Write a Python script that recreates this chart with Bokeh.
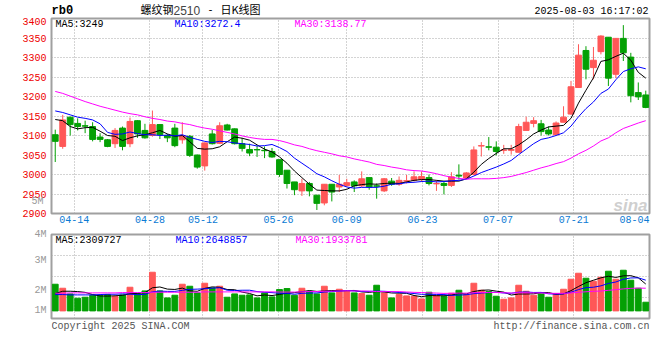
from bokeh.plotting import figure
from bokeh.models import Range1d, FixedTicker, Label, ColumnDataSource, LinearAxis
from bokeh.layouts import column
from bokeh.embed import file_html
from bokeh.resources import INLINE

# ---------------- data ----------------
dates = ["04-09", "04-10", "04-11", "04-14", "04-15", "04-16", "04-17", "04-18", "04-21", "04-22",
         "04-23", "04-24", "04-25", "04-28", "04-29", "04-30", "05-06", "05-07", "05-08", "05-09",
         "05-12", "05-13", "05-14", "05-15", "05-16", "05-19", "05-20", "05-21", "05-22", "05-23",
         "05-26", "05-27", "05-28", "05-29", "05-30", "06-03", "06-04", "06-05", "06-06", "06-09",
         "06-10", "06-11", "06-12", "06-13", "06-16", "06-17", "06-18", "06-19", "06-20", "06-23",
         "06-24", "06-25", "06-26", "06-27", "06-30", "07-01", "07-02", "07-03", "07-04", "07-07",
         "07-08", "07-09", "07-10", "07-11", "07-14", "07-15", "07-16", "07-17", "07-18", "07-21",
         "07-22", "07-23", "07-24", "07-25", "07-28", "07-29", "07-30", "07-31", "08-01", "08-04"]

opens = [3102, 3072, 3147, 3131, 3125, 3123, 3096, 3089, 3079, 3119,
         3079, 3138, 3113, 3100, 3128, 3100, 3119, 3089, 3098, 3050,
         3022, 3104, 3080, 3127, 3117, 3079, 3064, 3064, 3062, 3059,
         3038, 3011, 2981, 2958, 2977, 2947, 2927, 2975, 2968, 2972,
         2981, 2971, 2992, 2971, 2958, 2983, 2975, 2983, 2985, 2987,
         2992, 2976, 2977, 2972, 2998, 2991, 3000, 3073, 3071, 3070,
         3062, 3062, 3057, 3113, 3131, 3130, 3114, 3102, 3134, 3155,
         3223, 3318, 3274, 3315, 3352, 3257, 3349, 3301, 3210, 3204]
highs = [3115, 3153, 3148, 3144, 3138, 3134, 3106, 3091, 3119, 3123,
         3146, 3139, 3130, 3164, 3129, 3104, 3130, 3134, 3101, 3051,
         3082, 3114, 3134, 3130, 3118, 3094, 3079, 3074, 3072, 3068,
         3038, 3011, 2981, 2989, 2981, 2947, 2975, 2975, 2999, 2989,
         2985, 3008, 2992, 2977, 2991, 2991, 2995, 2999, 3008, 3008,
         3000, 2985, 2981, 3006, 3026, 3006, 3072, 3083, 3096, 3085,
         3076, 3076, 3130, 3148, 3147, 3140, 3123, 3136, 3175, 3240,
         3334, 3329, 3327, 3357, 3352, 3349, 3383, 3312, 3236, 3215]
lows = [3032, 3066, 3100, 3113, 3106, 3085, 3083, 3070, 3068, 3062,
        3070, 3094, 3092, 3097, 3091, 3083, 3070, 3079, 3045, 3015,
        3010, 3077, 3078, 3113, 3077, 3059, 3047, 3045, 3042, 3043,
        2994, 2964, 2947, 2945, 2944, 2909, 2921, 2931, 2955, 2968,
        2955, 2968, 2961, 2938, 2955, 2971, 2971, 2977, 2982, 2981,
        2972, 2958, 2949, 2968, 2987, 2989, 2998, 3046, 3062, 3049,
        3053, 3051, 3057, 3113, 3121, 3100, 3100, 3102, 3134, 3153,
        3223, 3244, 3244, 3308, 3227, 3247, 3291, 3185, 3191, 3170]
closes = [3085, 3140, 3128, 3123, 3124, 3090, 3090, 3072, 3113, 3072,
          3136, 3104, 3094, 3128, 3102, 3094, 3074, 3100, 3049, 3019,
          3081, 3079, 3125, 3114, 3079, 3067, 3055, 3063, 3061, 3045,
          3000, 2977, 2961, 2977, 2958, 2926, 2975, 2955, 2975, 2979,
          2971, 2989, 2968, 2970, 2989, 2975, 2985, 2984, 2994, 2995,
          2977, 2977, 2972, 2994, 2996, 3004, 3063, 3074, 3070, 3059,
          3063, 3064, 3123, 3134, 3138, 3110, 3104, 3132, 3147, 3225,
          3306, 3270, 3293, 3355, 3247, 3349, 3312, 3202, 3199, 3172]

ma5 = [3141, 3138, 3123, 3117, 3120, 3121, 3111, 3100, 3098, 3087,
       3094, 3099, 3102, 3107, 3113, 3104, 3098, 3100, 3084, 3067,
       3065, 3066, 3071, 3084, 3096, 3093, 3088, 3076, 3065, 3058,
       3045, 3029, 3009, 2992, 2975, 2960, 2959, 2958, 2958, 2962,
       2971, 2974, 2976, 2975, 2977, 2978, 2977, 2981, 2985, 2987,
       2987, 2985, 2983, 2983, 2983, 2989, 3006, 3026, 3041, 3054,
       3066, 3066, 3076, 3089, 3104, 3114, 3122, 3124, 3126, 3144,
       3183, 3216, 3248, 3290, 3294, 3303, 3311, 3293, 3262, 3247]
ma10 = [3163, 3159, 3153, 3147, 3144, 3140, 3130, 3108, 3103, 3104,
        3109, 3105, 3102, 3102, 3100, 3101, 3099, 3102, 3095, 3090,
        3085, 3082, 3085, 3084, 3081, 3079, 3077, 3073, 3074, 3077,
        3069, 3059, 3042, 3029, 3016, 3002, 2994, 2984, 2975, 2968,
        2965, 2967, 2967, 2967, 2970, 2975, 2976, 2979, 2980, 2982,
        2983, 2981, 2982, 2984, 2985, 2988, 2996, 3005, 3012, 3019,
        3027, 3036, 3051, 3065, 3079, 3090, 3094, 3100, 3107, 3124,
        3148, 3169, 3186, 3208, 3219, 3243, 3264, 3271, 3276, 3271]
ma30 = [3213, 3208, 3201, 3194, 3187, 3181, 3175, 3170, 3165, 3160,
        3156, 3153, 3148, 3144, 3141, 3137, 3135, 3131, 3128, 3123,
        3119, 3116, 3112, 3108, 3104, 3099, 3095, 3092, 3090, 3090,
        3087, 3082, 3076, 3072, 3066, 3061, 3057, 3053, 3048, 3045,
        3040, 3036, 3032, 3026, 3023, 3019, 3016, 3012, 3010, 3009,
        3006, 3002, 2997, 2993, 2990, 2988, 2989, 2989, 2989, 2990,
        2992, 2995, 3000, 3005, 3011, 3017, 3022, 3028, 3033, 3042,
        3053, 3062, 3073, 3086, 3094, 3107, 3118, 3125, 3132, 3138]

# volume, thousand lots
volumes = [2294, 1950, 1463, 1090, 1176, 1348, 1348, 1405, 1233, 1377,
           2036, 1491, 1721, 3327, 1721, 1119, 1348, 2294, 2122, 1549,
           2380, 1979, 2122, 1176, 1463, 1348, 1377, 1119, 1549, 1205,
           1836, 1922, 1348, 1950, 1692, 1463, 2122, 1549, 1864, 1721,
           1549, 1491, 1348, 2208, 1549, 1119, 1405, 1291, 1262, 1032,
           1606, 1348, 1262, 1520, 1778, 1405, 2380, 1778, 1663, 1262,
           1004, 1119, 2208, 1692, 1348, 1463, 1176, 1491, 1864, 2725,
           3241, 2811, 2553, 2897, 3413, 2725, 3499, 2639, 1950, 746]
vol_ma5 = [1491, 1692, 1692, 1663, 1595, 1405, 1285, 1273, 1302, 1342,
           1480, 1509, 1572, 1990, 2059, 1876, 1847, 1962, 1721, 1686,
           1939, 2065, 2031, 1841, 1824, 1618, 1497, 1296, 1371, 1319,
           1417, 1526, 1572, 1652, 1749, 1675, 1715, 1755, 1738, 1744,
           1761, 1635, 1595, 1663, 1629, 1543, 1526, 1514, 1325, 1222,
           1319, 1308, 1302, 1354, 1503, 1463, 1669, 1772, 1801, 1698,
           1618, 1365, 1451, 1457, 1474, 1566, 1577, 1434, 1468, 1744,
           2099, 2426, 2639, 2845, 2983, 2879, 3017, 3034, 2845, 2312]
vol_ma10 = [1405, 1405, 1377, 1377, 1377, 1377, 1405, 1434, 1434, 1468,
            1443, 1397, 1423, 1646, 1701, 1678, 1678, 1767, 1856, 1873,
            1907, 1956, 1996, 1781, 1755, 1778, 1781, 1663, 1606, 1572,
            1517, 1511, 1434, 1511, 1534, 1546, 1620, 1663, 1695, 1747,
            1718, 1675, 1675, 1701, 1686, 1652, 1580, 1554, 1494, 1425,
            1431, 1417, 1408, 1339, 1362, 1391, 1488, 1537, 1577, 1600,
            1540, 1517, 1612, 1629, 1586, 1592, 1471, 1443, 1463, 1609,
            1833, 2002, 2036, 2157, 2363, 2489, 2722, 2836, 2845, 2647]
vol_ma30 = [1520, 1520, 1549, 1549, 1549, 1549, 1549, 1549, 1549, 1577,
            1577, 1577, 1577, 1606, 1606, 1606, 1606, 1606, 1606, 1606,
            1635, 1635, 1635, 1635, 1635, 1635, 1635, 1635, 1635, 1638,
            1623, 1620, 1618, 1646, 1663, 1666, 1692, 1698, 1718, 1729,
            1715, 1715, 1701, 1663, 1658, 1658, 1661, 1626, 1597, 1580,
            1554, 1534, 1506, 1517, 1529, 1529, 1563, 1586, 1589, 1592,
            1563, 1537, 1566, 1557, 1546, 1546, 1514, 1511, 1511, 1546,
            1600, 1646, 1686, 1709, 1770, 1824, 1893, 1939, 1962, 1953]

price_ticks = [2900, 2950, 3000, 3050, 3100, 3150, 3200, 3250, 3300, 3350, 3400]
date_ticks = ["04-14", "04-28", "05-12", "05-26", "06-09", "06-23", "07-07", "07-21", "08-04"]
vol_tick_labels = ["1M", "2M", "3M", "4M"]
vol_tick_values = [0, 1721, 4303, 6570]
price_side_label = "5M"
price_side_value = 2930

title_code = "rb0"
title_name = "螺纹钢"
title_contract = "2510"
title_dash = "-"
title_kind = "日K线图"
timestamp = "2025-08-03 16:17:02"
price_legend = ["MA5:3249", "MA10:3272.4", "MA30:3138.77"]
vol_legend = ["MA5:2309727", "MA10:2648857", "MA30:1933781"]
copyright_text = "Copyright 2025 SINA.COM"
url_text = "http://finance.sina.com.cn"

# ---------------- style ----------------
UP = "#ff5757"
DOWN = "#04a004"
MA_COLORS = ["#000000", "#0000ff", "#ff00ff"]
FRAME = "#a0a0a0"
GRID = "#a8a8a8"
MONO = "Liberation Mono"
CJK = "Noto Sans CJK SC"
DATE_BLUE = "#0a7ad4"
AXIS_GRAY = "#999999"
W = 653
LEFT = 51          # frame left edge (all panels share it)

n = len(dates)
idx = list(range(n))
colors = [UP if c >= o else DOWN for o, c in zip(opens, closes)]
src = ColumnDataSource(dict(
    x=idx, o=opens, h=highs, l=lows, c=closes,
    top=[max(o, c) for o, c in zip(opens, closes)],
    bot=[min(o, c) for o, c in zip(opens, closes)],
    col=colors, vol=volumes,
    ma5=ma5, ma10=ma10, ma30=ma30,
    vma5=vol_ma5, vma10=vol_ma10, vma30=vol_ma30))

# date gridlines: sina spaces them over n-1 steps; the last label is kept inside the frame
tick_pos = [round(dates.index(d) * n / (n - 1) - 0.5, 4) for d in date_ticks]
tick_pos[-1] = round(min(tick_pos[-1], n - 0.5 - 2.0), 4)
grid_x = tick_pos[:-1]


def style_axis(ax):
    ax.axis_line_color = None
    ax.major_tick_line_color = None
    ax.minor_tick_line_color = None
    ax.major_tick_out = 0
    ax.major_tick_in = 0
    ax.minor_tick_out = 0
    ax.minor_tick_in = 0
    ax.major_label_text_font = MONO
    ax.major_label_text_font_size = "10px"


def style_common(fig):
    fig.outline_line_color = FRAME
    fig.outline_line_width = 2
    fig.background_fill_color = "white"
    fig.border_fill_color = "white"
    for ax in fig.axis:
        style_axis(ax)
    for g in fig.grid:
        g.grid_line_color = GRID
        g.grid_line_dash = "1 2"
        g.grid_line_width = 1


def add_label(fig, text, x, y, color="#000000", size="10px", font=MONO, align="left",
              style="normal"):
    fig.add_layout(Label(x=x, y=y, x_units="screen", y_units="screen", text=text,
                         text_color=color, text_font_size=size, text_font=font,
                         text_align=align, text_baseline="middle", text_font_style=style))


def strip(height):
    """A bare text strip (its frame lines up with the panels below)."""
    f = figure(width=W, height=height, x_range=Range1d(0, 1), y_range=Range1d(0, 1),
               output_backend="svg", toolbar_location=None,
               min_border_left=LEFT, min_border_right=4, min_border_top=0, min_border_bottom=0)
    f.axis.visible = False
    f.grid.visible = False
    f.outline_line_color = None
    f.background_fill_color = "white"
    f.border_fill_color = "white"
    return f


# ---------------- header strip (x from the frame's left edge, y from its bottom) ----------------
head = strip(17)
add_label(head, title_code, 0, 7, size="12px", style="bold")
add_label(head, title_name, 140 - LEFT, 8.5, size="11px", font=CJK)
add_label(head, title_contract, 173 - LEFT, 7, color="#444444", size="12px",
          font="Liberation Sans")
add_label(head, title_dash, 207 - LEFT, 8, size="10px", font=MONO)
add_label(head, title_kind, 220 - LEFT, 8.5, size="11px", font=CJK)
add_label(head, timestamp, 648 - LEFT, 6, align="right")

# ---------------- price panel ----------------
p = figure(width=W, height=210, x_range=Range1d(-0.5, n - 0.5), y_range=Range1d(2900, 3400),
           output_backend="svg", toolbar_location=None,
           min_border_left=LEFT, min_border_right=4, min_border_top=1, min_border_bottom=14)
style_common(p)
p.xaxis.ticker = FixedTicker(ticks=tick_pos)
p.xaxis.major_label_overrides = {t: d for t, d in zip(tick_pos, date_ticks)}
p.xaxis.major_label_text_color = DATE_BLUE
p.xaxis.major_label_standoff = 2
p.xgrid.ticker = FixedTicker(ticks=grid_x)
p.yaxis.ticker = FixedTicker(ticks=price_ticks)
p.yaxis.major_label_text_color = "#ee0000"
p.yaxis.major_label_standoff = 5
p.ygrid.ticker = FixedTicker(ticks=price_ticks[1:-1])

# grey "5M" that sina prints in the price axis column: a second left axis, pulled back
# over the first one so that its label lines up with the price labels
side = LinearAxis(ticker=FixedTicker(ticks=[price_side_value]),
                  major_label_overrides={price_side_value: price_side_label})
style_axis(side)
side.major_label_text_color = AXIS_GRAY
side.major_label_standoff = -24
p.add_layout(side, "left")

p.segment(x0="x", y0="l", x1="x", y1="h", color="col", line_width=1, source=src)
p.vbar(x="x", width=0.78, top="top", bottom="bot", fill_color="col", line_color="col",
       line_width=1, source=src)
for key, col in zip(["ma5", "ma10", "ma30"], MA_COLORS):
    p.line(x="x", y=key, color=col, line_width=1, source=src)

for txt, col, xx in zip(price_legend, MA_COLORS, [4, 123, 243]):
    add_label(p, txt, xx, 188.8, color=col)
p.add_layout(Label(x=596, y=8, x_units="screen", y_units="screen", text="sina",
                   text_color="#cfcfcf", text_font_size="17px", text_font="Liberation Sans",
                   text_font_style="bold italic", text_align="right", text_baseline="alphabetic"))

# ---------------- volume panel ----------------
v_lo, v_hi = -654, 6575
p2 = figure(width=W, height=93, x_range=Range1d(-0.5, n - 0.5), y_range=Range1d(v_lo, v_hi),
            output_backend="svg", toolbar_location=None,
            min_border_left=LEFT, min_border_right=4, min_border_top=7, min_border_bottom=2)
style_common(p2)
p2.xaxis.visible = False
p2.xgrid.ticker = FixedTicker(ticks=grid_x)
p2.yaxis.ticker = FixedTicker(ticks=vol_tick_values)
p2.yaxis.major_label_overrides = {v: t for v, t in zip(vol_tick_values, vol_tick_labels)}
p2.yaxis.major_label_text_color = AXIS_GRAY
p2.yaxis.major_label_standoff = 5
p2.ygrid.ticker = FixedTicker(ticks=[v_lo + (v_hi - v_lo) * k / 4 for k in (1, 2, 3)])

p2.vbar(x="x", width=0.78, top="vol", bottom=0, fill_color="col", line_color="col", source=src)
for key, col in zip(["vma5", "vma10", "vma30"], MA_COLORS):
    p2.line(x="x", y=key, color=col, line_width=1, source=src)

for txt, col, xx in zip(vol_legend, MA_COLORS, [4, 124, 244]):
    add_label(p2, txt, xx, 78, color=col)

# ---------------- footer strip ----------------
foot = strip(14)
add_label(foot, copyright_text, 0, 8, color="#555555")
add_label(foot, url_text, 649 - LEFT, 8, color="#555555", align="right")

layout = column(head, p, p2, foot, spacing=0)
open("out.html", "w").write(file_html(layout, INLINE))
